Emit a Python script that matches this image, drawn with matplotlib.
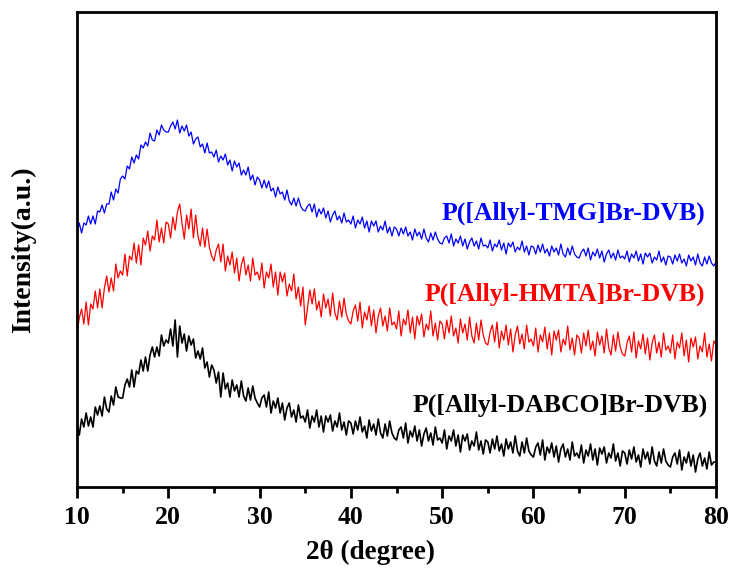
import numpy as np
import matplotlib
matplotlib.use("Agg")
import matplotlib.pyplot as plt
from matplotlib.ticker import MultipleLocator

# 2-theta range (degrees) of the scans, sampled every 0.25 degree
two_theta_start = 10
two_theta_end = 80

# Intensity (a.u., stacked/offset)
tmg = [
    254, 264, 254, 264, 262, 271, 263, 271, 263, 276, 275, 282, 274, 283, 283, 295, 287, 298, 294, 308,
    311, 308, 321, 318, 330, 324, 332, 328, 342, 339, 345, 341, 354, 347, 346, 357, 352, 362, 357, 355,
    355, 361, 365, 358, 367, 354, 361, 356, 362, 351, 355, 343, 348, 350, 340, 343, 334, 344, 334, 335,
    330, 337, 325, 331, 327, 333, 322, 327, 316, 326, 320, 324, 312, 317, 312, 320, 307, 312, 302, 310,
    307, 299, 307, 299, 306, 296, 299, 290, 300, 293, 295, 287, 297, 286, 282, 289, 281, 289, 281, 277,
    276, 281, 283, 275, 283, 270, 278, 273, 279, 269, 276, 265, 272, 276, 267, 271, 264, 274, 265, 267,
    263, 271, 259, 267, 263, 270, 259, 266, 255, 266, 261, 266, 255, 261, 257, 266, 254, 260, 251, 260,
    258, 251, 259, 253, 260, 251, 255, 247, 258, 251, 255, 248, 258, 249, 245, 254, 247, 255, 248, 244,
    243, 249, 251, 244, 253, 241, 248, 244, 251, 241, 248, 238, 245, 249, 241, 246, 238, 249, 241, 242,
    239, 247, 236, 243, 240, 247, 237, 244, 233, 244, 240, 245, 235, 240, 237, 246, 235, 241, 232, 241,
    240, 233, 242, 235, 243, 234, 238, 231, 241, 235, 239, 232, 243, 233, 230, 239, 232, 241, 233, 230,
    229, 235, 238, 231, 239, 227, 235, 231, 238, 229, 236, 225, 233, 237, 229, 234, 227, 237, 229, 231,
    228, 236, 225, 233, 229, 236, 226, 233, 223, 234, 230, 234, 224, 230, 227, 236, 225, 230, 222, 231,
    230, 223, 232, 226, 233, 224, 228, 221, 232, 226, 230, 222, 233, 224, 221, 230, 223, 231, 224, 221,
    225,
]

hmta = [
    154, 169, 178, 163, 185, 162, 183, 178, 196, 179, 198, 179, 199, 211, 195, 209, 196, 223, 209, 216,
    212, 233, 211, 231, 227, 244, 224, 242, 222, 249, 242, 256, 236, 251, 247, 267, 245, 259, 244, 265,
    263, 249, 270, 257, 275, 283, 264, 248, 272, 258, 278, 249, 272, 251, 241, 259, 240, 258, 240, 231,
    226, 237, 243, 225, 243, 216, 231, 222, 235, 214, 229, 206, 222, 230, 212, 222, 206, 229, 212, 215,
    207, 224, 199, 215, 209, 223, 200, 215, 192, 215, 205, 214, 191, 203, 196, 213, 188, 200, 181, 200,
    162, 179, 197, 183, 198, 177, 186, 170, 193, 179, 188, 171, 194, 174, 167, 186, 170, 189, 173, 166,
    163, 176, 182, 166, 185, 159, 175, 167, 181, 161, 177, 154, 171, 179, 161, 171, 156, 179, 162, 165,
    158, 176, 151, 168, 162, 177, 154, 170, 148, 171, 162, 173, 150, 163, 157, 176, 151, 164, 147, 166,
    163, 148, 167, 154, 171, 151, 159, 144, 168, 154, 163, 147, 170, 151, 144, 164, 147, 167, 152, 144,
    142, 155, 162, 145, 165, 139, 156, 147, 162, 142, 158, 135, 152, 161, 143, 153, 138, 162, 145, 148,
    141, 159, 135, 152, 145, 160, 138, 154, 132, 156, 147, 157, 135, 148, 142, 161, 137, 149, 132, 152,
    149, 134, 154, 141, 157, 137, 146, 131, 155, 142, 151, 134, 158, 139, 132, 152, 136, 155, 140, 133,
    131, 144, 151, 135, 155, 129, 146, 138, 153, 133, 149, 127, 144, 152, 134, 145, 130, 154, 137, 141,
    134, 152, 128, 145, 139, 154, 131, 147, 125, 149, 140, 150, 128, 141, 135, 154, 130, 143, 126, 146,
    142,
]

dabco = [
    62, 52, 68, 60, 74, 61, 70, 60, 80, 72, 81, 71, 90, 78, 75, 91, 82, 100, 90, 89,
    89, 102, 108, 100, 117, 100, 116, 113, 127, 116, 130, 116, 132, 140, 130, 140, 131, 152, 141, 147,
    144, 158, 141, 167, 130, 161, 144, 153, 136, 151, 142, 148, 129, 136, 128, 139, 119, 125, 110, 122,
    117, 104, 115, 90, 114, 98, 104, 90, 107, 96, 102, 90, 106, 91, 86, 99, 87, 101, 89, 84,
    80, 89, 92, 80, 95, 74, 86, 79, 89, 74, 84, 67, 79, 84, 70, 77, 65, 82, 69, 71,
    65, 77, 59, 71, 65, 77, 60, 71, 55, 71, 65, 72, 56, 66, 60, 74, 57, 65, 52, 66,
    64, 53, 66, 57, 70, 55, 61, 49, 67, 56, 63, 52, 68, 54, 49, 63, 51, 66, 54, 49,
    47, 57, 60, 49, 64, 44, 56, 50, 61, 46, 57, 41, 53, 59, 46, 54, 42, 60, 47, 49,
    44, 57, 38, 51, 46, 57, 41, 52, 35, 52, 46, 53, 37, 46, 41, 55, 37, 46, 33, 47,
    45, 34, 48, 38, 51, 36, 43, 31, 48, 38, 45, 34, 51, 36, 31, 45, 34, 49, 36, 32,
    30, 40, 44, 32, 47, 27, 40, 34, 44, 30, 41, 25, 38, 43, 30, 38, 27, 45, 31, 34,
    29, 42, 24, 37, 31, 43, 27, 38, 22, 39, 33, 40, 24, 34, 29, 43, 26, 34, 21, 36,
    34, 23, 37, 28, 40, 25, 32, 20, 38, 28, 35, 23, 40, 26, 21, 35, 24, 38, 26, 22,
    20, 30, 34, 23, 37, 17, 30, 24, 35, 21, 32, 15, 28, 34, 21, 29, 18, 35, 22, 25,
    25,
]

series_labels = ["P([Allyl-TMG]Br-DVB)", "P([Allyl-HMTA]Br-DVB)", "P([Allyl-DABCO]Br-DVB)"]
series_colors = ["#0000FF", "#FF0000", "#000000"]
x_ticks = [10, 20, 30, 40, 50, 60, 70, 80]

FONT = "Liberation Serif"

fig = plt.figure(figsize=(7.32, 5.72), dpi=100)
ax = fig.add_axes([0.1052, 0.1486, 0.8730, 0.8304])

series = [tmg, hmta, dabco]
widths = [0.9, 0.9, 1.2]
for vals, col, lw in zip(series, series_colors, widths):
    x = np.linspace(two_theta_start, two_theta_end, len(vals))
    ax.plot(x, vals, color=col, lw=lw)

# labels next to curves
label_pos = [(78.8, 274), (78.8, 193), (79.1, 82)]
for (lx, ly), lab, col in zip(label_pos, series_labels, series_colors):
    ax.text(lx, ly, lab, color=col, ha="right", va="center",
            fontsize=18.5, fontweight="bold", family=FONT)

ax.set_xlim(10, 80)
ax.set_ylim(0, 475)
ax.set_xticks(x_ticks)
ax.xaxis.set_minor_locator(MultipleLocator(5))
ax.set_yticks([])
ax.tick_params(axis="x", which="major", direction="out", length=8, width=2,
               top=False, labelsize=18.5, pad=6)
ax.tick_params(axis="x", which="minor", direction="out", length=4.5, width=2, top=False)
for lbl in ax.get_xticklabels():
    lbl.set_fontweight("bold")
    lbl.set_family(FONT)
for sp in ax.spines.values():
    sp.set_linewidth(2)

ax.set_xlabel("2θ (degree)", fontsize=19.5, fontweight="bold", family=FONT)
ax.xaxis.set_label_coords(0.46, -0.112)
ax.set_ylabel("Intensity(a.u.)", fontsize=20, fontweight="bold", family=FONT)
ax.yaxis.set_label_coords(-0.064, 0.5)

fig.savefig("out.png", dpi=100)
